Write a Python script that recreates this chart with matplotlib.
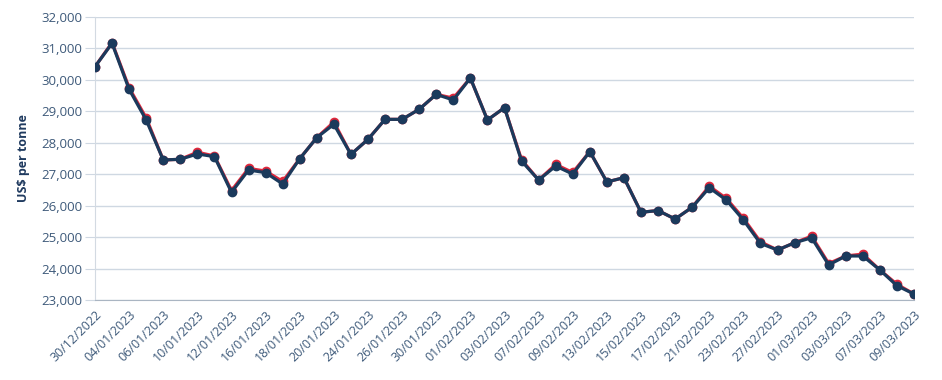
import matplotlib.pyplot as plt
from matplotlib.ticker import FuncFormatter

plt.rcParams['font.family'] = ['Open Sans', 'DejaVu Sans']

# trading days shown on the chart
fechas = ['30/12/2022', '03/01/2023', '04/01/2023', '05/01/2023', '06/01/2023',
          '09/01/2023', '10/01/2023', '11/01/2023', '12/01/2023', '13/01/2023',
          '16/01/2023', '17/01/2023', '18/01/2023', '19/01/2023', '20/01/2023',
          '23/01/2023', '24/01/2023', '25/01/2023', '26/01/2023', '27/01/2023',
          '30/01/2023', '31/01/2023', '01/02/2023', '02/02/2023', '03/02/2023',
          '06/02/2023', '07/02/2023', '08/02/2023', '09/02/2023', '10/02/2023',
          '13/02/2023', '14/02/2023', '15/02/2023', '16/02/2023', '17/02/2023',
          '20/02/2023', '21/02/2023', '22/02/2023', '23/02/2023', '24/02/2023',
          '27/02/2023', '28/02/2023', '01/03/2023', '02/03/2023', '03/03/2023',
          '06/03/2023', '07/03/2023', '08/03/2023', '09/03/2023']

# serie azul (encima)
precio_azul = [30420, 31165, 29700, 28725, 27453, 27475, 27645, 27560, 26425, 27135,
               27050, 26690, 27495, 28165, 28590, 27630, 28110, 28745, 28745, 29065,
               29540, 29360, 30060, 28725, 29115, 27420, 26815, 27260, 27005, 27720,
               26755, 26890, 25790, 25845, 25575, 25950, 26570, 26180, 25545, 24800,
               24590, 24820, 24980, 24115, 24400, 24400, 23955, 23455, 23190]

# serie roja (debajo)
precio_rojo = [30420, 31185, 29750, 28790, 27453, 27475, 27700, 27580, 26480, 27185,
               27100, 26770, 27495, 28165, 28660, 27630, 28110, 28745, 28745, 29065,
               29540, 29420, 30060, 28725, 29115, 27460, 26815, 27310, 27055, 27720,
               26755, 26890, 25790, 25845, 25575, 25950, 26620, 26230, 25600, 24850,
               24590, 24820, 25030, 24160, 24400, 24460, 23955, 23500, 23190]

azul = '#1b3a5c'
rojo = '#e0283c'
texto = '#3e5a7a'

fig = plt.figure(figsize=(9.42, 3.8), dpi=100)
ax = fig.add_axes([95 / 942, 1 - 300 / 380, (914 - 95) / 942, (300 - 17) / 380])

x = list(range(len(fechas)))
ax.plot(x, precio_rojo, color=rojo, lw=2.3, marker='o', ms=6, zorder=2)
ax.plot(x, precio_azul, color=azul, lw=2.3, marker='o', ms=6, zorder=3)

ax.set_xlim(0, len(fechas) - 1)
ax.set_ylim(23000, 32000)
ax.set_yticks(range(23000, 32001, 1000))
ax.yaxis.set_major_formatter(FuncFormatter(lambda v, p: f'{int(v):,}'))
ax.set_xticks(x[::2])
ax.set_xticklabels(fechas[::2], rotation=45, ha='right', rotation_mode='anchor')

ax.grid(axis='y', color='#cfd8e2', lw=1)
ax.set_axisbelow(True)
for lado in ['top', 'right']:
    ax.spines[lado].set_visible(False)
ax.spines['left'].set_color('#d3dae2')
ax.spines['bottom'].set_color('#aab5c2')
ax.tick_params(axis='y', length=7, color='#cfd8e2', labelsize=9.5, labelcolor=texto, pad=2)
ax.tick_params(axis='x', length=0, labelsize=9, labelcolor=texto, pad=6)

ax.set_ylabel('US$ per tonne', fontsize=9, fontweight='bold', color='#1f3a5f', labelpad=8)

fig.savefig('out.png', dpi=100)
